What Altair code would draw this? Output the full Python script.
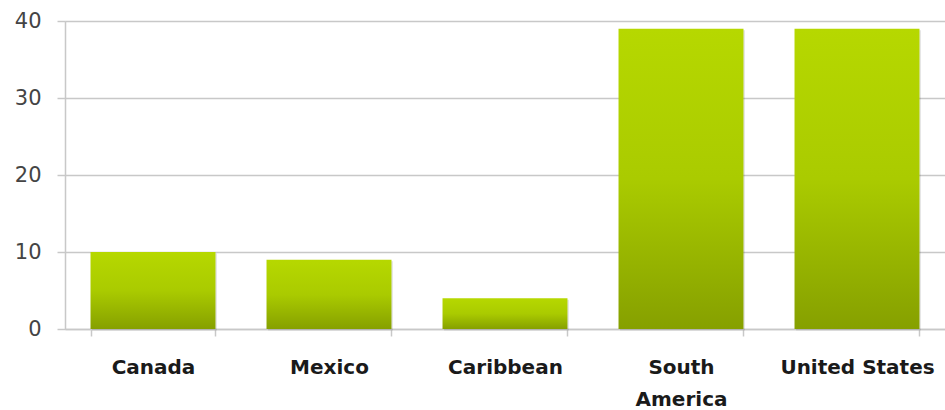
import altair as alt
import pandas as pd

regions = ["Canada", "Mexico", "Caribbean", "South America", "United States"]
values = [10, 9, 4, 39, 39]
y_ticks = [0, 10, 20, 30, 40]

df = pd.DataFrame({"region": regions, "value": values})

grad = alt.Gradient(
    gradient="linear",
    x1=0, x2=0, y1=0, y2=1,
    stops=[
        alt.GradientStop(color="#b6d800", offset=0),
        alt.GradientStop(color="#aacb00", offset=0.5),
        alt.GradientStop(color="#86a000", offset=1),
    ],
)

x_enc = alt.X(
    "region:N",
    sort=regions,
    scale=alt.Scale(paddingInner=0.29, paddingOuter=0.145),
    axis=alt.Axis(
        title=None,
        labelAngle=0,
        labelFont="DejaVu Sans",
        labelFontWeight="bold",
        labelFontSize=20,
        labelColor="#1a1a1a",
        labelPadding=21,
        labelLineHeight=32,
        labelBaseline="top",
        labelExpr="datum.label == 'South America' ? ['South', 'America'] : datum.label",
        tickBand="extent",
        tickSize=7,
        tickColor="#c8c8c8",
        tickWidth=1.5,
        domainColor="#c8c8c8",
        domainWidth=1.5,
        labelLimit=300,
        grid=False,
    ),
)
y_enc = alt.Y(
    "value:Q",
    scale=alt.Scale(domain=[0, 40]),
    axis=alt.Axis(
        title=None,
        values=y_ticks,
        labelFont="DejaVu Sans",
        labelFontSize=21,
        labelColor="#444444",
        labelPadding=16,
        tickSize=8,
        tickColor="#c8c8c8",
        tickWidth=1.5,
        gridColor="#c8c8c8",
        gridWidth=1.5,
        domainColor="#c8c8c8",
        domainWidth=1.5,
    ),
)

shadow = alt.Chart(df).mark_bar(color="#000000", opacity=0.10, xOffset=1.5, yOffset=1.5).encode(
    x=x_enc, y=y_enc
)
bars = alt.Chart(df).mark_bar(color=grad).encode(x=x_enc, y=y_enc)

chart = (
    alt.layer(shadow, bars)
    .properties(
        width=880,
        height=308,
        autosize=alt.AutoSizeParams(type="none"),
        padding={"left": 65, "top": 21, "right": 0, "bottom": 81},
    )
    .configure_view(stroke=None)
    .configure(background="#ffffff")
)

chart.save("out.html", embed_options={"renderer": "svg", "actions": False})
